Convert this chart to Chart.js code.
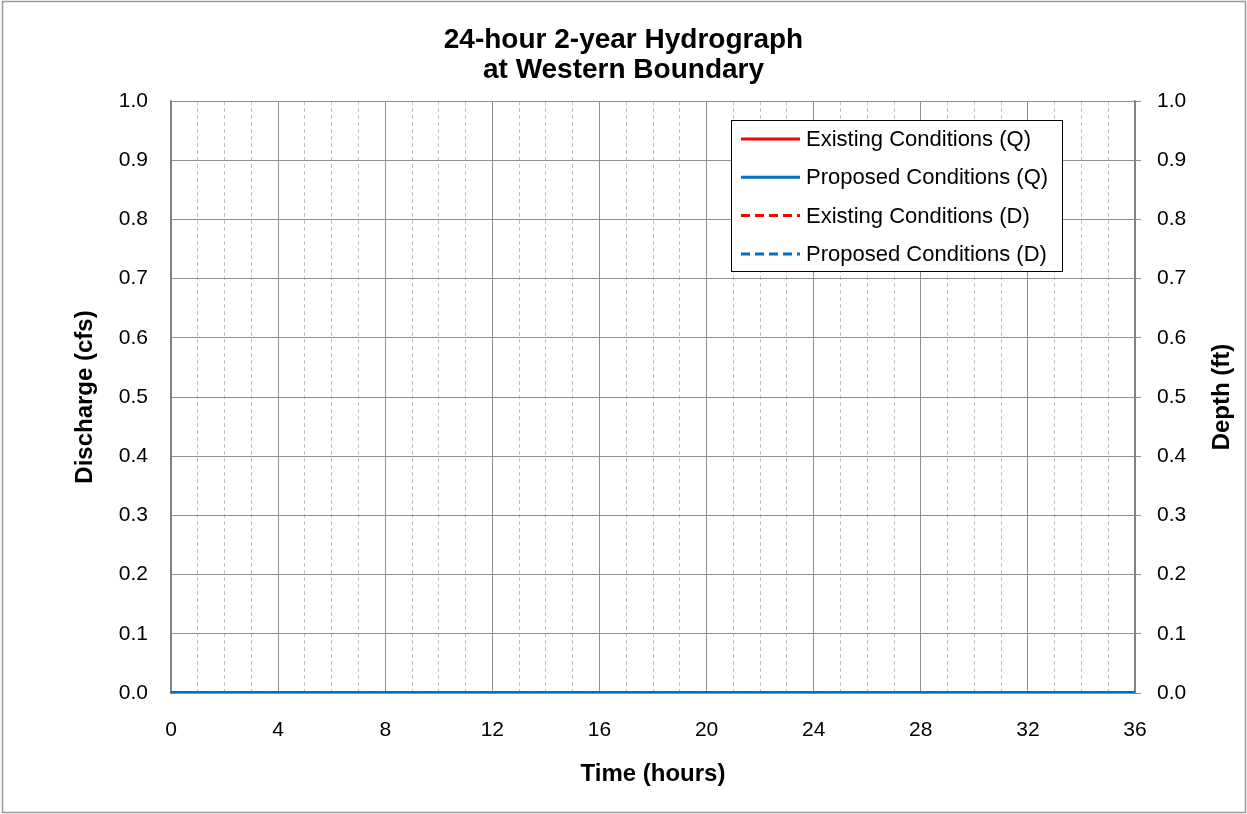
<!DOCTYPE html>
<html>
<head>
<meta charset="utf-8">
<title>24-hour 2-year Hydrograph at Western Boundary</title>
<script src="https://cdn.jsdelivr.net/npm/chart.js@4.4.1/dist/chart.umd.min.js"></script>
<style>
    html, body { margin: 0; padding: 0; background: #fff; }
    #wrap { width: 1247px; height: 814px; }
</style>
</head>
<body>
<div id="wrap"><canvas id="hydroChart" width="1247" height="814"></canvas></div>
<script>
// Time axis (hours)
const hours = [0, 1, 2, 3, 4, 5, 6, 7, 8, 9, 10, 11, 12, 13, 14, 15, 16, 17, 18,
    19, 20, 21, 22, 23, 24, 25, 26, 27, 28, 29, 30, 31, 32, 33, 34, 35, 36];

// Discharge (cfs) - no flow at this boundary
const existingQ = [0, 0, 0, 0, 0, 0, 0, 0, 0, 0, 0, 0, 0, 0, 0, 0, 0, 0, 0,
    0, 0, 0, 0, 0, 0, 0, 0, 0, 0, 0, 0, 0, 0, 0, 0, 0, 0];
const proposedQ = [0, 0, 0, 0, 0, 0, 0, 0, 0, 0, 0, 0, 0, 0, 0, 0, 0, 0, 0,
    0, 0, 0, 0, 0, 0, 0, 0, 0, 0, 0, 0, 0, 0, 0, 0, 0, 0];

// Depth (ft)
const existingD = [0, 0, 0, 0, 0, 0, 0, 0, 0, 0, 0, 0, 0, 0, 0, 0, 0, 0, 0,
    0, 0, 0, 0, 0, 0, 0, 0, 0, 0, 0, 0, 0, 0, 0, 0, 0, 0];
const proposedD = [0, 0, 0, 0, 0, 0, 0, 0, 0, 0, 0, 0, 0, 0, 0, 0, 0, 0, 0,
    0, 0, 0, 0, 0, 0, 0, 0, 0, 0, 0, 0, 0, 0, 0, 0, 0, 0];

const seriesLabels = ['Existing Conditions (Q)', 'Proposed Conditions (Q)',
    'Existing Conditions (D)', 'Proposed Conditions (D)'];

const RED = '#FF0000';
const BLUE = '#0070C0';
const GRID = '#8f8f8f';
const FONT = "'Liberation Sans', Arial, sans-serif";

const toPoints = (vals) => vals.map((v, i) => ({ x: hours[i], y: v }));

// White page + thin grey frame around the whole picture
const framePlugin = {
    id: 'frame',
    beforeDraw(chart) {
        const c = chart.ctx;
        c.save();
        c.fillStyle = '#fff';
        c.fillRect(0, 0, chart.width, chart.height);
        c.strokeStyle = '#9a9a9a';
        c.lineWidth = 1.5;
        c.strokeRect(2.5, 1.5, chart.width - 4, chart.height - 3);
        c.restore();
    }
};

// Right axis title reads bottom-to-top like the left one
const rightTitle = {
    id: 'rightTitle',
    afterDraw(chart) {
        const c = chart.ctx;
        const area = chart.chartArea;
        c.save();
        c.translate(chart.width - 25, (area.top + area.bottom) / 2);
        c.rotate(-Math.PI / 2);
        c.font = 'bold 24px ' + FONT;
        c.fillStyle = '#000';
        c.textAlign = 'center';
        c.textBaseline = 'middle';
        c.fillText('Depth (ft)', 0, 0);
        c.restore();
    }
};

// Boxed legend inside the plot, top right
const boxLegend = {
    id: 'boxLegend',
    afterDraw(chart) {
        const c = chart.ctx;
        const area = chart.chartArea;
        const w = 331, h = 151;
        const x0 = area.right - 73 - w;
        const y0 = area.top + 19;
        c.save();
        c.fillStyle = '#fff';
        c.fillRect(x0, y0, w, h);
        c.strokeStyle = '#000';
        c.lineWidth = 1;
        c.strokeRect(x0 + 0.5, y0 + 0.5, w, h);
        c.font = '22px ' + FONT;
        c.textBaseline = 'middle';
        c.fillStyle = '#000';
        chart.data.datasets.forEach((ds, i) => {
            const y = y0 + 19 + i * 38.3;
            c.beginPath();
            c.strokeStyle = ds.borderColor;
            c.lineWidth = 3;
            c.setLineDash(ds.borderDash || []);
            c.moveTo(x0 + 10, y);
            c.lineTo(x0 + 69, y);
            c.stroke();
            c.setLineDash([]);
            c.fillText(ds.label, x0 + 75, y + 1);
        });
        c.restore();
    }
};

const ctx = document.getElementById('hydroChart');

new Chart(ctx.getContext('2d'), {
    type: 'line',
    data: {
        datasets: [
            { label: seriesLabels[0], data: toPoints(existingQ), yAxisID: 'y', order: 4,
              borderColor: RED, borderWidth: 3.5 },
            { label: seriesLabels[1], data: toPoints(proposedQ), yAxisID: 'y', order: 3,
              borderColor: BLUE, borderWidth: 3.5 },
            { label: seriesLabels[2], data: toPoints(existingD), yAxisID: 'y1', order: 2,
              borderColor: RED, borderWidth: 3, borderDash: [9, 5] },
            { label: seriesLabels[3], data: toPoints(proposedD), yAxisID: 'y1', order: 1,
              borderColor: BLUE, borderWidth: 3, borderDash: [9, 5] }
        ]
    },
    options: {
        responsive: false,
        animation: false,
        devicePixelRatio: 1,
        layout: { padding: 0 },
        elements: { point: { radius: 0 }, line: { tension: 0 } },
        plugins: {
            legend: { display: false },
            tooltip: { enabled: false },
            title: {
                display: true,
                text: ['24-hour 2-year Hydrograph', 'at Western Boundary'],
                color: '#000',
                font: { family: FONT, size: 28, weight: 'bold', lineHeight: '30px' },
                padding: { top: 25, bottom: 16 }
            }
        },
        scales: {
            // minor (hourly) dashed verticals
            xMinor: {
                type: 'linear', position: 'bottom', min: 0, max: 36,
                ticks: { display: false, stepSize: 1 },
                grid: {
                    drawTicks: false,
                    color: (c) => (c.tick && c.tick.value % 4 === 0) ? 'rgba(0,0,0,0)' : '#c0c0c0',
                    lineWidth: 1
                },
                border: { display: false, dash: [4, 3] },
                afterFit(s) { s.height = 0; }
            },
            x: {
                type: 'linear', position: 'bottom', min: 0, max: 36,
                ticks: {
                    stepSize: 4, padding: 25, color: '#000',
                    font: { family: FONT, size: 21 }
                },
                grid: { color: GRID, lineWidth: 1, drawTicks: false },
                border: { color: GRID, width: 1 },
                title: {
                    display: true, text: 'Time (hours)', color: '#000',
                    font: { family: FONT, size: 24, weight: 'bold', lineHeight: 1.2 },
                    padding: { top: 0, bottom: 25 }
                },
                afterFit(s) { s.height = 121; }
            },
            y: {
                type: 'linear', position: 'left', min: 0, max: 1,
                ticks: {
                    stepSize: 0.1, padding: 23, color: '#000',
                    font: { family: FONT, size: 21 },
                    callback: (v) => v.toFixed(1)
                },
                grid: { color: GRID, lineWidth: 1, drawTicks: false },
                border: { color: '#7f7f7f', width: 1.5 },
                title: {
                    display: true, text: 'Discharge (cfs)', color: '#000',
                    font: { family: FONT, size: 24, weight: 'bold', lineHeight: 1.2 },
                    padding: { top: 71, bottom: 0 }
                },
                afterFit(s) { s.width = 171; }
            },
            y1: {
                type: 'linear', position: 'right', min: 0, max: 1,
                ticks: {
                    stepSize: 0.1, padding: 16, color: '#000',
                    font: { family: FONT, size: 21 },
                    callback: (v) => v.toFixed(1)
                },
                grid: { drawOnChartArea: false, drawTicks: true, tickLength: 6, tickColor: GRID },
                border: { color: '#7f7f7f', width: 1.5 },
                title: { display: false },
                afterFit(s) { s.width = 112; }
            }
        }
    },
    plugins: [framePlugin, boxLegend, rightTitle]
});
</script>
</body>
</html>
